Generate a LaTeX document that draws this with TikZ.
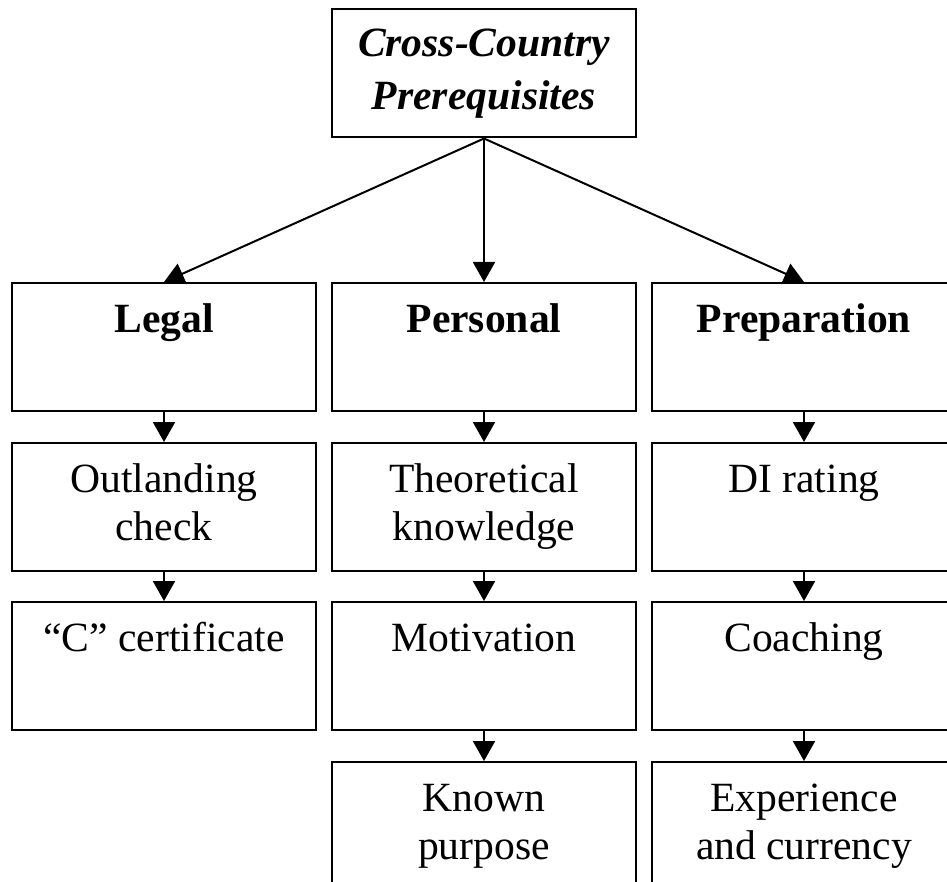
\documentclass[tikz,border=0pt]{standalone}
\usepackage{fontspec}
\setmainfont{Liberation Serif}
\usetikzlibrary{arrows.meta}

% text sits at the top of each box
\newcommand{\boxtext}[2][24.5pt]{\parbox[c][64pt][t]{152pt}{\centering\rule{0pt}{#1}#2}}

\tikzset{
  stage/.style={draw, line width=1pt, inner sep=0pt, font=\fontsize{20.8}{24}\selectfont},
  link/.style={line width=1pt, -{Triangle[width=11pt,length=10pt]}},
}

\begin{document}
\begin{tikzpicture}[x=0.5pt,y=-0.5pt]
\useasboundingbox (0,0) rectangle (947,882);
\clip (0,0) rectangle (947,882);

% Top node
\node[stage] (prereq) at (484,73.5) {\boxtext[23.5pt]{\textbf{\textit{Cross-Country\\[2.5pt]Prerequisites}}}};

% Column heads
\node[stage] (legal) at (164,347) {\boxtext{\textbf{Legal}}};
\node[stage] (personal) at (484,347) {\boxtext{\textbf{Personal}}};
\node[stage] (prep) at (804,347) {\boxtext{\textbf{Preparation}}};

% Legal column
\node[stage] (outland) at (164,507) {\boxtext{Outlanding\\check}};
\node[stage] (cert) at (164,666) {\boxtext{“C” certificate}};

% Personal column
\node[stage] (theory) at (484,507) {\boxtext{Theoretical\\knowledge}};
\node[stage] (motiv) at (484,666) {\boxtext{Motivation}};
\node[stage] (purpose) at (484,826) {\boxtext{Known\\purpose}};

% Preparation column
\node[stage] (rating) at (804,507) {\boxtext{DI rating}};
\node[stage] (coach) at (804,666) {\boxtext{Coaching}};
\node[stage] (exper) at (804,826) {\boxtext{Experience\\and currency}};

% Arrows
\draw[link] (prereq.south) -- (legal.north);
\draw[link] (prereq.south) -- (personal.north);
\draw[link] (prereq.south) -- (prep.north);
\draw[link] (legal.south) -- (outland.north);
\draw[link] (outland.south) -- (cert.north);
\draw[link] (personal.south) -- (theory.north);
\draw[link] (theory.south) -- (motiv.north);
\draw[link] (motiv.south) -- (purpose.north);
\draw[link] (prep.south) -- (rating.north);
\draw[link] (rating.south) -- (coach.north);
\draw[link] (coach.south) -- (exper.north);

\end{tikzpicture}
\end{document}
